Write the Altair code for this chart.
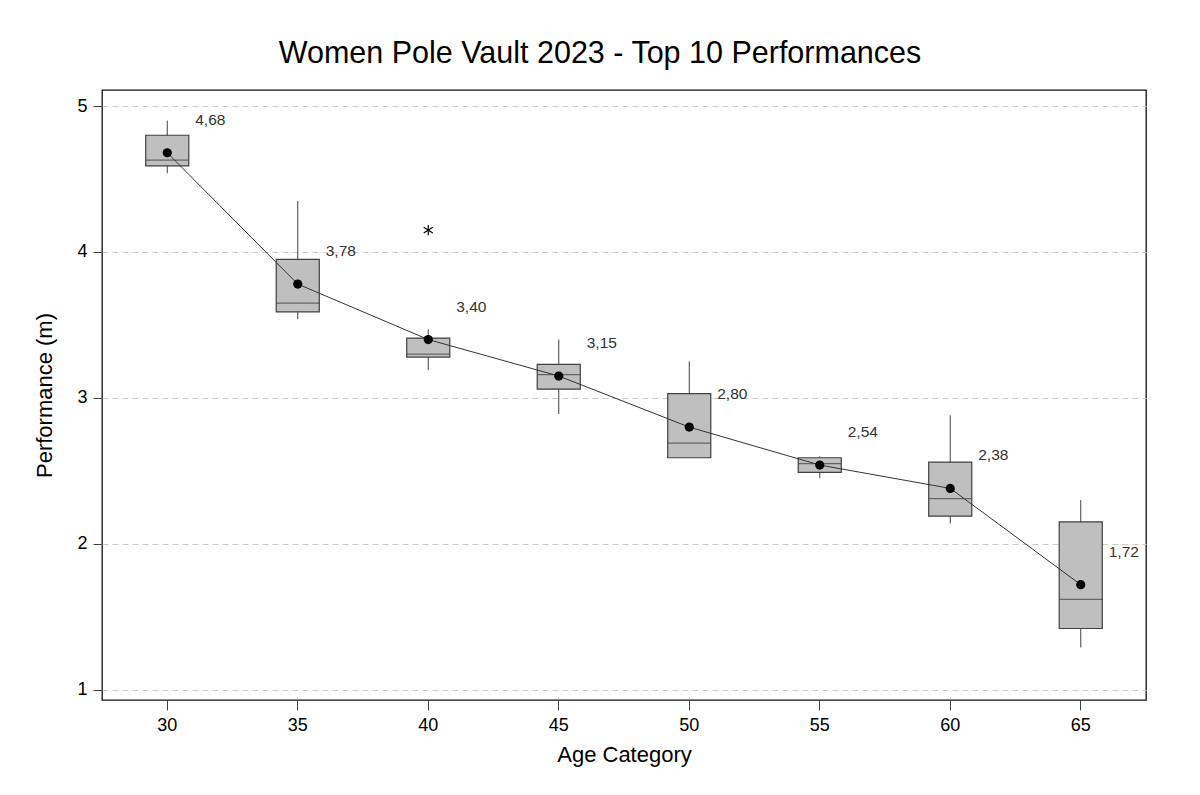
import altair as alt
import pandas as pd

# ---- data ----
ages = ["30", "35", "40", "45", "50", "55", "60", "65"]
whisker_low = [4.54, 3.54, 3.19, 2.89, 2.59, 2.45, 2.14, 1.29]
q1 = [4.59, 3.59, 3.28, 3.06, 2.59, 2.49, 2.19, 1.42]
median = [4.63, 3.65, 3.30, 3.16, 2.69, 2.55, 2.31, 1.62]
q3 = [4.80, 3.95, 3.41, 3.23, 3.03, 2.59, 2.56, 2.15]
whisker_high = [4.90, 4.35, 3.47, 3.40, 3.25, 2.60, 2.88, 2.30]
mean = [4.68, 3.78, 3.40, 3.15, 2.80, 2.54, 2.38, 1.72]
outlier_age = ["40"]
outlier_value = [4.15]
y_ticks = [1, 2, 3, 4, 5]

df = pd.DataFrame({
    "age": ages, "lo": whisker_low, "q1": q1, "med": median,
    "q3": q3, "hi": whisker_high, "mean": mean,
    "label": [f"{m:.2f}".replace(".", ",") for m in mean],
})
out_df = pd.DataFrame({"age": outlier_age, "value": outlier_value})

FONT = "Liberation Sans"
DARK = "#404040"

x_enc = alt.X("age:N", sort=ages,
              scale=alt.Scale(paddingInner=0.67, paddingOuter=0.335),
              axis=alt.Axis(title="Age Category", labelAngle=0, grid=False,
                            domain=False, ticks=True, tickSize=10,
                            tickColor=DARK, labelFontSize=18, labelColor="black",
                            labelPadding=6, titleFontSize=22,
                            titleFontWeight="normal", titleColor="black",
                            titlePadding=10, labelFont=FONT, titleFont=FONT))

y_scale = alt.Scale(domain=[0.93, 5.11], nice=False, zero=False)
y_axis = alt.Axis(title="Performance (m)", values=y_ticks, format="d", grid=True,
                  gridDash=[6, 4], gridColor="#cccccc", gridWidth=1,
                  domain=False, tickSize=9, tickColor=DARK,
                  labelFontSize=18, labelColor="black", labelPadding=6,
                  titleFontSize=22, titleFontWeight="normal",
                  titleColor="black", titlePadding=20,
                  labelFont=FONT, titleFont=FONT)

base = alt.Chart(df)

whiskers = base.mark_rule(color=DARK, strokeWidth=1).encode(
    x=x_enc,
    y=alt.Y("lo:Q", scale=y_scale, axis=y_axis),
    y2="hi:Q",
)

boxes = base.mark_bar(fill="#bfbfbf", stroke=DARK, strokeWidth=1.2).encode(
    x=x_enc,
    y=alt.Y("q1:Q", scale=y_scale),
    y2="q3:Q",
)

medians = base.mark_tick(color=DARK, size=43, thickness=1.3, orient="horizontal").encode(
    x=x_enc,
    y=alt.Y("med:Q", scale=y_scale),
)

mean_line = base.mark_line(color="#333333", strokeWidth=1).encode(
    x=x_enc,
    y=alt.Y("mean:Q", scale=y_scale),
)

mean_pts = base.mark_point(filled=True, color="black", size=85, opacity=1).encode(
    x=x_enc,
    y=alt.Y("mean:Q", scale=y_scale),
)

labels = base.mark_text(align="left", baseline="middle", dx=28, dy=-33,
                        fontSize=15.5, font=FONT, color="#333333").encode(
    x=x_enc,
    y=alt.Y("mean:Q", scale=y_scale),
    text="label:N",
)

asterisk = "M0,-0.9L0,0.9M-0.8,-0.5L0.8,0.5M-0.8,0.5L0.8,-0.5"
outliers = alt.Chart(out_df).mark_point(shape=asterisk, filled=False,
                                         color="black", strokeWidth=1.2,
                                         size=130, opacity=1).encode(
    x=alt.X("age:N", sort=ages),
    y=alt.Y("value:Q", scale=y_scale),
)

chart = alt.layer(whiskers, boxes, medians, mean_line, mean_pts, labels, outliers).properties(
    width=1044,
    height=610,
    title=alt.TitleParams("Women Pole Vault 2023 - Top 10 Performances",
                          fontSize=30.5, font=FONT, fontWeight="normal",
                          color="black", anchor="middle", offset=21, dx=-24),
    autosize=alt.AutoSizeParams(type="none"),
    padding={"left": 94, "top": 82, "right": 46, "bottom": 87},
    view=alt.ViewBackground(stroke="#111111", strokeWidth=1.3, fill="white"),
).configure_view(
    stroke="#111111", strokeWidth=1.3, fill="white"
).configure(
    background="white"
)

chart.save("out.html", embed_options={"renderer": "svg", "actions": False})
